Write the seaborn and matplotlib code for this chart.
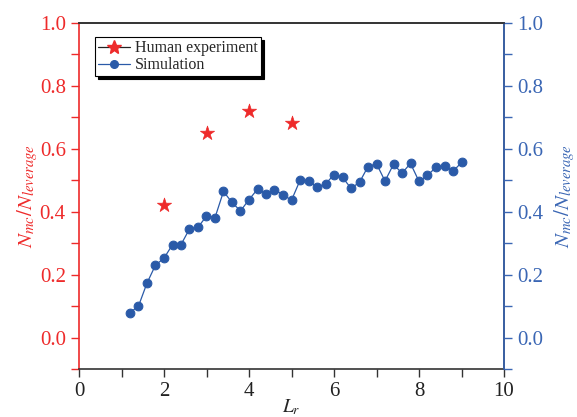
import matplotlib
matplotlib.use("Agg")
import matplotlib.pyplot as plt
from matplotlib.lines import Line2D
from matplotlib.ticker import MultipleLocator
import seaborn as sns
import pandas as pd

# ---- data ----
human_x = [2, 3, 4, 5]
human_y = [0.42, 0.65, 0.72, 0.68]

sim_x = [1.2, 1.4, 1.6, 1.8, 2.0, 2.2, 2.4, 2.6, 2.8, 3.0,
         3.2, 3.4, 3.6, 3.8, 4.0, 4.2, 4.4, 4.6, 4.8, 5.0,
         5.2, 5.4, 5.6, 5.8, 6.0, 6.2, 6.4, 6.6, 6.8, 7.0,
         7.2, 7.4, 7.6, 7.8, 8.0, 8.2, 8.4, 8.6, 8.8, 9.0]
sim_y = [0.079, 0.100, 0.173, 0.230, 0.252, 0.295, 0.295, 0.345, 0.350, 0.386,
         0.381, 0.464, 0.429, 0.402, 0.438, 0.471, 0.457, 0.469, 0.454, 0.436,
         0.499, 0.497, 0.478, 0.488, 0.517, 0.509, 0.474, 0.493, 0.543, 0.552,
         0.497, 0.550, 0.522, 0.553, 0.496, 0.515, 0.541, 0.545, 0.528, 0.556]

x_ticks = [0, 2, 4, 6, 8, 10]
y_ticks = [0.0, 0.2, 0.4, 0.6, 0.8, 1.0]
legend_labels = ["Human experiment", "Simulation"]

RED = "#ee2a2a"
BLUE = "#2a5aa8"
BLUE_AX = "#3a66b4"
DARK = "#333333"

sns.set_style("ticks")
plt.rcParams["font.family"] = ["Liberation Serif", "DejaVu Serif"]
plt.rcParams["mathtext.fontset"] = "stix"

fig = plt.figure(figsize=(5.77, 4.17), dpi=100)
ax = fig.add_axes([79/577, 1-369/417, 425/577, (369-22.7)/417])
ax2 = ax.twinx()

df_h = pd.DataFrame({"x": human_x, "y": human_y})
df_s = pd.DataFrame({"x": sim_x, "y": sim_y})

sns.scatterplot(data=df_h, x="x", y="y", ax=ax, marker="*", s=115,
                color=RED, edgecolor=RED, linewidth=0.5, zorder=5)
sns.lineplot(data=df_s, x="x", y="y", ax=ax2, marker="o", markersize=6.3,
             color=BLUE, markeredgecolor=BLUE, linewidth=0.9, zorder=4)

for a in (ax, ax2):
    a.set_xlim(0, 10)
    a.set_ylim(-0.1, 1.0)
    a.set_yticks(y_ticks)
    a.yaxis.set_minor_locator(MultipleLocator(0.1))

ax.set_xticks(x_ticks)
ax.xaxis.set_minor_locator(MultipleLocator(1))
ax.set_xticklabels([str(v) for v in x_ticks], fontsize=15)
ax.set_yticklabels([f"{v:.1f}" for v in y_ticks], fontsize=15, color=RED)
ax2.set_yticklabels([f"{v:.1f}" for v in y_ticks], fontsize=15, color=BLUE_AX)

ax.tick_params(axis="y", which="both", direction="out", colors=RED, length=6, width=1)
ax.tick_params(axis="x", which="both", direction="out", colors=DARK, length=6, width=1, labelcolor="#222222")
ax2.tick_params(axis="y", which="both", direction="out", colors=BLUE_AX, length=6, width=1)

ax.set_xlabel(r"$L_r$", fontsize=14, labelpad=-3)
ax.set_ylabel(r"$N_{mc}/N_{leverage}$", fontsize=15, color=RED, labelpad=0)
ax2.set_ylabel(r"$N_{mc}/N_{leverage}$", fontsize=15, color=BLUE_AX, labelpad=6, rotation=90)

for a in (ax, ax2):
    for s in a.spines.values():
        s.set_linewidth(1.2)
ax.spines["left"].set_color(RED)
ax.spines["bottom"].set_color(DARK)
ax.spines["top"].set_color(DARK)
ax2.spines["right"].set_color(BLUE_AX)
ax2.spines["left"].set_visible(False)
ax2.spines["top"].set_color(DARK)
ax2.spines["bottom"].set_visible(False)

handles = [
    Line2D([], [], color="#222222", linewidth=0.9, marker="*", markersize=10,
           markerfacecolor=RED, markeredgecolor=RED),
    Line2D([], [], color=BLUE, linewidth=0.9, marker="o", markersize=5.5,
           markerfacecolor=BLUE, markeredgecolor=BLUE),
]
leg = ax2.legend(handles, legend_labels, loc="upper left",
                 bbox_to_anchor=(0.038, 0.958), borderaxespad=0,
                 fontsize=11.5, frameon=True, fancybox=False,
                 shadow={"color": "black", "alpha": 1.0},
                 handlelength=2.0, handletextpad=0.3, borderpad=0.2,
                 labelspacing=0.05)
leg.get_frame().set_edgecolor("black")
leg.get_frame().set_linewidth(0.8)
leg.get_frame().set_alpha(1.0)

fig.savefig("out.png", dpi=100)
